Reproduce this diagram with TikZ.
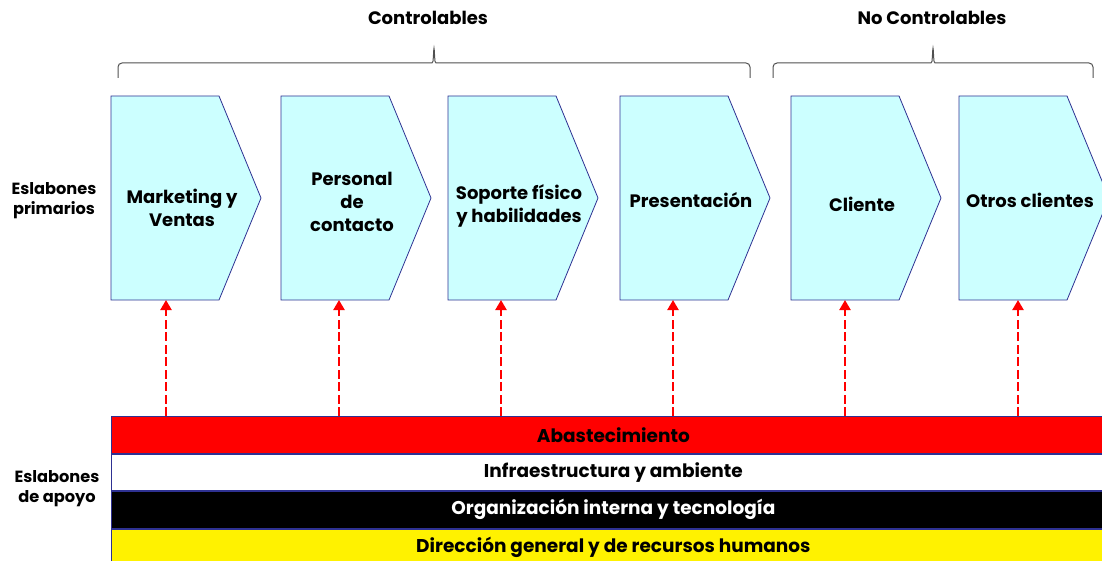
\documentclass[tikz,border=0pt]{standalone}
\usepackage{fontspec}
\setmainfont{Poppins}
\usetikzlibrary{arrows.meta,positioning}
\definecolor{navy}{RGB}{46,49,146}
\definecolor{paleblue}{RGB}{204,255,255}
\definecolor{bracegray}{RGB}{80,80,80}
% curly brace over a group: left x, right x, middle x
\newcommand{\groupbrace}[3]{%
    \draw[grouping] (#1,78) -- (#1,63) -- (#3-6,63) .. controls (#3-1,63) .. (#3,46)
        .. controls (#3+1,63) .. (#3+6,63) -- (#2,63) -- (#2,78);}

\begin{document}
\begin{tikzpicture}[x=1pt,y=-1pt,
    chevron/.style={draw=navy,fill=paleblue,line width=0.8pt},
    chev text/.style={font=\bfseries\fontsize{18}{23}\selectfont,align=center,inner sep=0pt},
    bar/.style={draw=navy,line width=0.8pt,minimum width=1004pt,minimum height=36.7pt,inner sep=0pt,anchor=north west,font=\bfseries\fontsize{18.5}{18}\selectfont},
    side/.style={font=\bfseries\fontsize{16.2}{20}\selectfont,align=center},
    head/.style={font=\bfseries\fontsize{18}{18}\selectfont},
    grouping/.style={draw=bracegray,line width=1pt,rounded corners=4pt},
    support/.style={draw=red,line width=2.2pt,dash pattern=on 9pt off 3.5pt,-{Triangle[width=11pt,length=10pt]}}]
    \clip (0,0) rectangle (1102,561);

    % headers
    \node[head] (ctrl) at (428,18) {Controlables};
    \node[head] (noctrl) at (932,18) {No Controlables};
    \groupbrace{118}{750}{434}
    \groupbrace{773}{1093}{933}

    % primary links
    \foreach \n/\x/\a/\y/\t in {mkt/111/166/208/{Marketing y\\Ventas}, pers/281/339/202/{Personal\\de\\contacto},
            sop/448/501/206/{Soporte físico\\y habilidades}, pres/620/673/200/{Presentación},
            cli/791/845/204/{Cliente}, otros/959/1018/200/{Otros clientes}}{
        \draw[chevron] (\x,96) -- ++(108,0) -- ++(42,102) -- ++(-42,102) -- ++(-108,0) -- cycle;
        \node[chev text] (\n) at (\x+71,\y) {\t};
        \coordinate (\n-in) at (\a,300);
    }

    % support links
    \node[bar,fill=red] (abast) at (111,416) {Abastecimiento};
    \node[bar,fill=white,below=0pt of abast] (infra) {Infraestructura y ambiente};
    \node[bar,fill=black,text=white,below=0pt of infra] (org) {Organización interna y tecnología};
    \node[bar,fill=yellow,below=0pt of org] (dir) {Dirección general y de recursos humanos};

    \foreach \n in {mkt,pers,sop,pres,cli,otros}
        \path (\n-in |- abast.north) edge[support] (\n-in);

    \node[side] (prim) at (54,201) {Eslabones\\primarios};
    \node[side] (apoyo) at (57,489) {Eslabones\\de apoyo};
\end{tikzpicture}
\end{document}
